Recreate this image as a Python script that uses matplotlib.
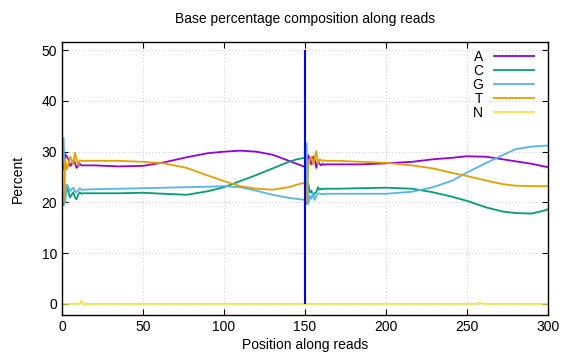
import matplotlib
matplotlib.use("Agg")
import matplotlib.pyplot as plt

plt.rcParams["font.family"] = ["Liberation Sans", "DejaVu Sans"]

# positions along reads (two reads of 150 bp)
pos = [1, 2, 3, 4, 5, 6, 7, 8, 9, 10, 11, 12, 13,
       20, 35, 50, 63, 77, 90, 100, 110, 120, 130, 140, 145, 150,
       151, 152, 153, 154, 155, 156, 157, 158, 159, 160, 161, 162, 163,
       170, 185, 200, 216, 229, 241, 250, 262, 272, 280, 290, 299, 300]

pct_a = [26.5, 29.5, 29.0, 28.5, 27.2, 27.5, 28.3, 27.8, 26.8, 27.2, 27.6, 27.3, 27.3,
         27.3, 27.1, 27.2, 27.9, 28.9, 29.7, 30.0, 30.2, 30.0, 29.4, 28.2, 27.6, 27.0,
         26.7, 29.3, 28.5, 27.5, 29.0, 28.5, 26.8, 28.3, 27.6, 27.3, 27.6, 27.4, 27.5,
         27.5, 27.5, 27.7, 28.0, 28.5, 28.8, 29.1, 29.0, 28.5, 28.1, 27.6, 27.0, 27.0]
pct_c = [19.5, 21.5, 23.0, 22.0, 21.0, 21.5, 22.0, 21.0, 20.6, 21.5, 22.0, 21.7, 21.8,
         21.8, 21.8, 21.9, 21.7, 21.5, 22.2, 23.0, 24.2, 25.4, 26.7, 28.0, 28.5, 28.8,
         19.7, 23.7, 22.0, 22.3, 21.3, 21.8, 22.0, 23.0, 22.5, 22.7, 22.6, 22.7, 22.7,
         22.7, 22.8, 22.9, 22.7, 22.0, 21.1, 20.3, 19.0, 18.2, 17.9, 17.8, 18.5, 18.7]
pct_g = [32.7, 20.0, 23.5, 23.0, 22.2, 22.6, 22.9, 22.2, 22.0, 22.4, 22.8, 22.5, 22.5,
         22.6, 22.7, 22.8, 22.9, 23.0, 23.1, 23.2, 23.0, 22.3, 21.5, 20.9, 20.7, 20.5,
         31.7, 19.7, 21.3, 20.7, 21.8, 20.5, 21.3, 21.7, 21.8, 21.6, 21.7, 21.6, 21.7,
         21.7, 21.7, 21.7, 22.1, 23.0, 24.3, 25.9, 27.8, 29.3, 30.5, 31.0, 31.2, 31.2]
pct_t = [20.0, 28.5, 26.5, 27.5, 29.0, 28.3, 27.5, 29.8, 28.5, 27.3, 28.3, 28.2, 28.2,
         28.2, 28.2, 28.0, 27.7, 26.8, 25.3, 24.2, 23.2, 22.7, 22.5, 23.0, 23.5, 23.9,
         20.0, 27.0, 28.5, 29.0, 27.5, 28.8, 30.1, 27.5, 28.5, 28.3, 28.2, 28.3, 28.2,
         28.2, 28.0, 27.8, 27.3, 26.7, 25.8, 25.2, 24.3, 23.6, 23.3, 23.2, 23.2, 23.2]

n_pos = [1, 11, 12, 13, 150, 151, 256, 258, 260, 300]
pct_n = [0.0, 0.0, 0.6, 0.0, 0.0, 0.0, 0.0, 0.2, 0.0, 0.0]

read_len = 150

fig = plt.figure(figsize=(5.76, 3.6), dpi=100)
ax = fig.add_axes([0.1076, 0.125, 0.8438, 0.758])

lw = 1.3
ax.plot(pos, pct_a, color="#9400d3", lw=lw, label="A")
ax.plot(pos, pct_c, color="#009e73", lw=lw, label="C")
ax.plot(pos, pct_g, color="#56b4e9", lw=lw, label="G")
ax.plot(pos, pct_t, color="#e69f00", lw=lw, label="T")
ax.plot(n_pos, pct_n, color="#f0e442", lw=lw, label="N")
ax.vlines(read_len, 0, 50, color="#0000ff", lw=1.5)

ax.set_xlim(0, 300)
ax.set_ylim(-2.2, 51.6)
ax.set_xticks(range(0, 301, 50))
ax.set_yticks(range(0, 51, 10))
ax.tick_params(direction="in", top=True, right=True, length=4, labelsize=10)
ax.grid(True, linestyle=(0, (1, 3)), color="#bbbbbb", lw=0.6)
for s in ax.spines.values():
    s.set_linewidth(1.0)

ax.set_title("Base percentage composition along reads", fontsize=10, pad=14)
ax.set_xlabel("Position along reads", fontsize=10, labelpad=3)
ax.set_ylabel("Percent", fontsize=10, labelpad=12)

ax.legend(loc="upper right", bbox_to_anchor=(0.986, 0.996), frameon=False,
          markerfirst=False, fontsize=10, handlelength=2.9, handletextpad=0.8,
          labelspacing=0.0, borderpad=0)

fig.savefig("out.png", dpi=100)
